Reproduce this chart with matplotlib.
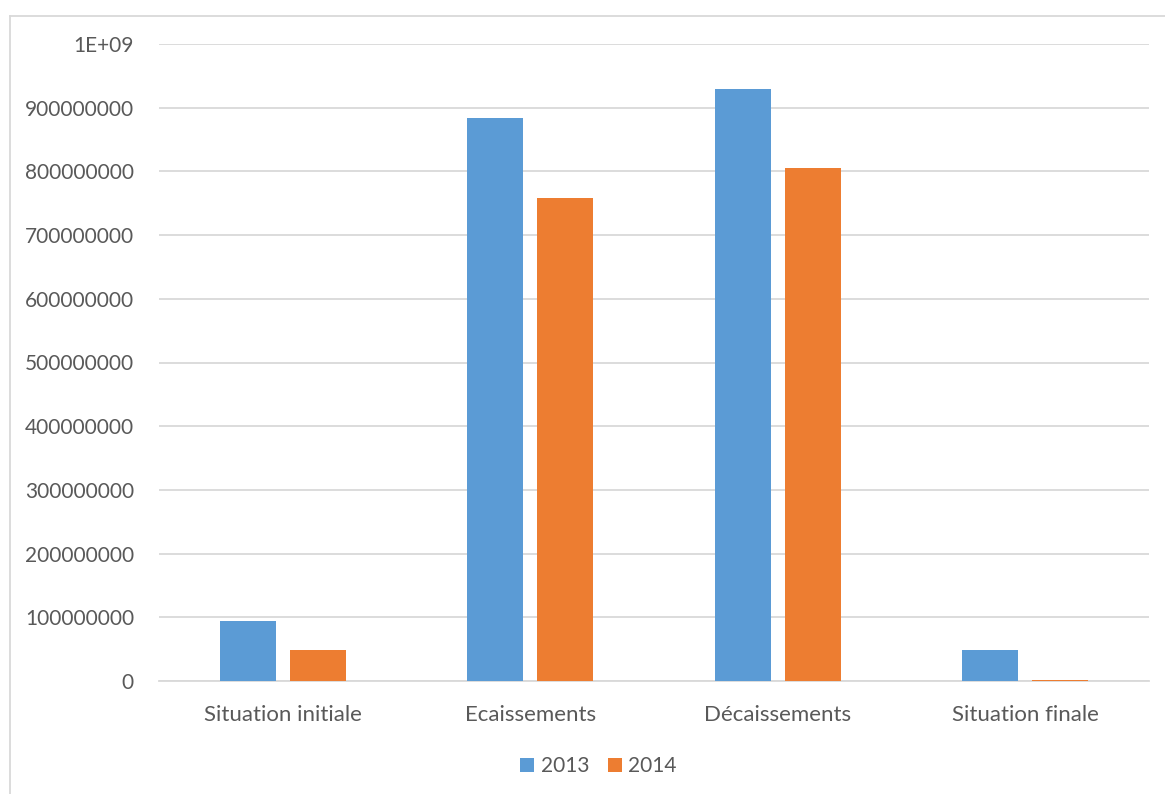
import matplotlib
matplotlib.use("Agg")
import matplotlib.pyplot as plt
from matplotlib.lines import Line2D
from matplotlib.patches import Patch
import numpy as np

categories = ["Situation initiale", "Ecaissements", "Décaissements", "Situation finale"]
series_names = ["2013", "2014"]
values_2013 = [94500000, 884000000, 930000000, 48300000]
values_2014 = [47900000, 759000000, 805500000, 1500000]
y_ticks = [0, 100000000, 200000000, 300000000, 400000000, 500000000,
           600000000, 700000000, 800000000, 900000000, 1000000000]
y_tick_labels = ["0", "100000000", "200000000", "300000000", "400000000", "500000000",
                 "600000000", "700000000", "800000000", "900000000", "1E+09"]

colors = ["#5B9BD5", "#ED7D31"]
text_color = "#595959"
grid_color = "#D9D9D9"

plt.rcParams['font.family'] = ['Lato', 'DejaVu Sans']

W, H = 1165, 794
fig = plt.figure(figsize=(W / 100, H / 100), dpi=100)
left, right, bottom, top = 159, 1149, 681, 44
ax = fig.add_axes([left / W, 1 - bottom / H, (right - left) / W, (bottom - top) / H])

x = np.arange(len(categories))
width = 0.226
offset = 0.1413
ax.bar(x - offset, values_2013, width, color=colors[0], zorder=3)
ax.bar(x + offset, values_2014, width, color=colors[1], zorder=3)

ax.set_xlim(-0.5, len(categories) - 0.5)
ax.set_ylim(0, 1000000000)
ax.set_yticks(y_ticks)
ax.set_yticklabels(y_tick_labels)
ax.set_xticks(x)
ax.set_xticklabels(categories)
ax.tick_params(axis='both', length=0, colors=text_color)
ax.tick_params(axis='y', pad=18, labelsize=15)
ax.tick_params(axis='x', pad=17, labelsize=16)
ax.yaxis.grid(True, color=grid_color, linewidth=1.3, zorder=0)
ax.set_axisbelow(True)
for s in ["top", "right", "left"]:
    ax.spines[s].set_visible(False)
ax.spines["bottom"].set_color(grid_color)
ax.spines["bottom"].set_linewidth(1.3)

handles = [Patch(facecolor=colors[0]), Patch(facecolor=colors[1])]
fig.legend(handles, series_names, loc="center", bbox_to_anchor=(598.5 / W, 1 - 766 / H),
           ncol=2, frameon=False, fontsize=15, labelcolor=text_color,
           handlelength=0.68, handleheight=0.68, handletextpad=0.3, columnspacing=0.9)

# chart area border (top and left visible)
fig.add_artist(Line2D([9.5 / W, 1.0], [1 - 15.5 / H, 1 - 15.5 / H], color=grid_color, linewidth=1.3,
                      transform=fig.transFigure))
fig.add_artist(Line2D([9.5 / W, 9.5 / W], [0, 1 - 15.5 / H], color=grid_color, linewidth=1.3,
                      transform=fig.transFigure))

fig.savefig("out.png", dpi=100)
